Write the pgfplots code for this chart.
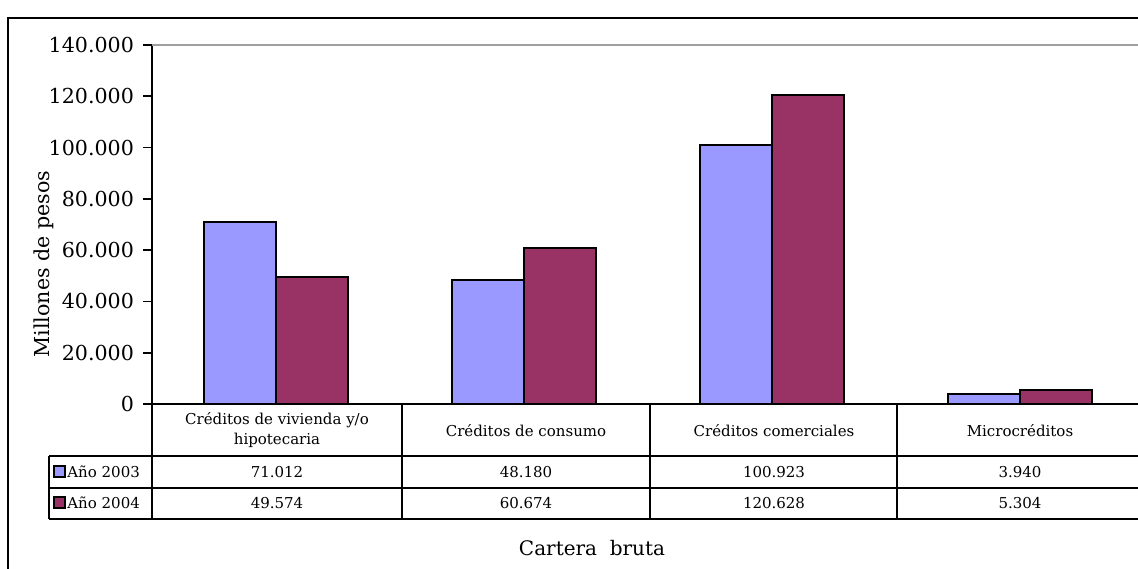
\documentclass[border=0pt]{standalone}
\usepackage{fontspec}
\setmainfont{DejaVu Serif}
\usepackage{pgfplots}
\pgfplotsset{compat=1.18}
\definecolor{c03}{HTML}{9999FF}
\definecolor{c04}{HTML}{993366}
\begin{document}
\begin{tikzpicture}
\useasboundingbox (0,0) rectangle (569pt,284pt);
\begin{axis}[
  at={(76pt,82pt)}, anchor=south west,
  scale only axis, width=496pt, height=179.5pt,
  xmin=-0.5, xmax=3.5, ymin=0, ymax=140000,
  ybar=0pt, bar width=36pt,
  axis y line*=left, axis x line*=bottom,
  axis line style={-, black, line width=0.9pt},
  xtick=\empty,
  ytick={0,20000,40000,60000,80000,100000,120000,140000},
  yticklabels={0,20.000,40.000,60.000,80.000,100.000,120.000,140.000},
  scaled y ticks=false,
  yticklabel style={font=\fontsize{10.3}{12}\selectfont, xshift=-1pt},
  tick align=outside, major tick length=4.5pt,
  tick style={black, line width=0.8pt},
  clip=false,
]
\addplot[fill=c03, draw=black, line width=1pt] coordinates {(0,71012) (1,48180) (2,100923) (3,3940)};
\addplot[fill=c04, draw=black, line width=1pt] coordinates {(0,49574) (1,60674) (2,120628) (3,5304)};
\draw[gray!75, line width=1.2pt] (rel axis cs:0,1) -- (rel axis cs:1.02,1);
\end{axis}
\begin{scope}[x=0.5pt, y=-0.5pt, yshift=284pt]
  % outer border
  \draw[line width=1pt] (8,18) rectangle (1170,600);
  % data table
  \draw[line width=0.9pt] (152,404) -- (152,519);
  \foreach \xx in {402,650,897} \draw[line width=0.9pt] (\xx,404) -- (\xx,519);
  \draw[line width=0.9pt] (49,456) -- (49,519);
  \foreach \yy in {456,488,519} \draw[line width=0.9pt] (49,\yy) -- (1170,\yy);
  \draw[line width=0.9pt] (152,404) -- (1170,404);
  \begin{scope}[every node/.style={font=\fontsize{7.5}{9}\selectfont, inner sep=0pt}]
    \node[align=center] at (277,430) {Créditos de vivienda y/o\\[1pt]hipotecaria};
    \node at (526,431) {Créditos de consumo};
    \node at (774,431) {Créditos comerciales};
    \node at (1020,431) {Microcréditos};
    \node at (277,472) {71.012};
    \node at (526,472) {48.180};
    \node at (774,472) {100.923};
    \node at (1020,472) {3.940};
    \node at (277,503) {49.574};
    \node at (526,503) {60.674};
    \node at (774,503) {120.628};
    \node at (1020,503) {5.304};
    \node[anchor=west] at (67,472) {Año 2003};
    \node[anchor=west] at (67,503) {Año 2004};
  \end{scope}
  \draw[fill=c03, line width=1pt] (54,466) rectangle (65,477);
  \draw[fill=c04, line width=1pt] (54,497) rectangle (65,508);
  \node[font=\fontsize{10}{12}\selectfont] at (592,548) {Cartera\ \ bruta};
  \node[font=\fontsize{10.3}{12}\selectfont, rotate=90] at (44,264) {Millones de pesos};
\end{scope}
\end{tikzpicture}
\end{document}
